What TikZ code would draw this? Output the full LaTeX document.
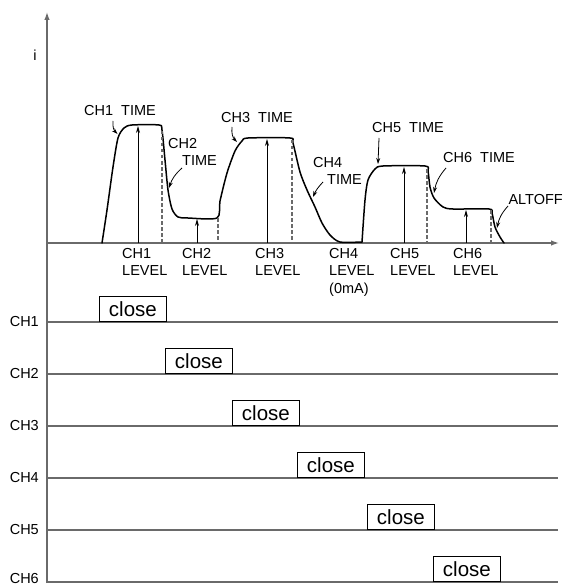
\documentclass[tikz,border=0pt]{standalone}
\usepackage{fontspec}
\setmainfont{Liberation Sans}
\usetikzlibrary{arrows.meta}
\definecolor{axgray}{HTML}{6A6A6A}
\begin{document}
\begin{tikzpicture}[x=1pt,y=-1pt,
  lbl/.style={font=\fontsize{14.5}{17.5}\selectfont, inner sep=0pt, align=left},
  axisline/.style={draw=axgray, line width=1.3pt},
  axistip/.style={-{Latex[length=8pt,width=5.5pt]}},
  dashline/.style={draw=axgray, line width=1.1pt, dash pattern=on 3.5pt off 2.5pt},
  levarrow/.style={draw=black, line width=0.8pt, -{Stealth[length=7pt,width=4pt]}},
  ptr/.style={draw=black, line width=0.8pt, -{Stealth[length=6pt,width=4pt]}},
  curve/.style={draw=black, line width=1.5pt, line join=round, line cap=round},
  chline/.style={draw=axgray, line width=1.3pt},
  closebox/.style={draw=black, line width=0.8pt, minimum width=67pt, minimum height=25pt, inner sep=0pt, font=\fontsize{20.5}{22}\selectfont, anchor=south west}
]
\useasboundingbox (0,0) rectangle (563,588);

% axes
\coordinate (ytop) at (47,12);
\coordinate (ybot) at (47,583);
\coordinate (org) at (47,243);
\coordinate (xend) at (559,243);
\draw[axisline, axistip] (ybot) -- (ytop);
\draw[axisline, axistip] (org) -- (xend);
\node[lbl] (ilabel) at (35,55) {i};

% waveform
\draw[curve] plot[smooth, tension=0.45] coordinates {
 (102,243) (107,210) (113,167) (118,138) (124,128) (132,125) (159,125)
 (162,130) (165,160) (168,190) (172,209) (178,217) (188,218) (217,218)
 (220,201) (227,173) (235,151) (242,141) (248,138) (290,138)
 (293,143) (300,172) (307,190) (315,207) (322,223) (330,235) (340,242) (362,242)};
\draw[curve] plot[smooth, tension=0.45] coordinates {
 (362,242) (365,200) (368,180) (375,169) (383,166) (425,166)
 (428,171) (430,187) (434,198) (443,207) (453,209) (489,209)
 (492,213) (495,227) (500,237) (504,243)};

% dashed lines
\foreach \n/\x/\y in {1/162/131, 2/218/218, 3/292/140, 4/427/169, 5/491/210}{
  \coordinate (dt\n) at (\x,\y);
  \coordinate (db\n) at (\x,243);
  \draw[dashline] (dt\n) -- (db\n);
}

% level arrows
\foreach \n/\x/\y in {1/138/126, 2/197/219, 3/267/139, 5/404/167, 6/466/210}{
  \coordinate (lb\n) at (\x,243);
  \coordinate (lt\n) at (\x,\y);
  \draw[levarrow] (lb\n) -- (lt\n);
}

% time labels
\node[lbl] (t1) at (120,111) {CH1\ \ TIME};
\node[lbl, anchor=north west] (t2) at (168,138) {CH2\\\hspace*{14pt}TIME};
\node[lbl] (t3) at (257,118) {CH3\ \ TIME};
\node[lbl, anchor=north west] (t4) at (313,157) {CH4\\\hspace*{14pt}TIME};
\node[lbl] (t5) at (408,128) {CH5\ \ TIME};
\node[lbl] (t6) at (479,158) {CH6\ \ TIME};
\node[lbl, anchor=east] (t7) at (563,200) {ALTOFF};

% pointer arrows
\coordinate (p1a) at (113,121); \coordinate (p1b) at (117.5,134);
\coordinate (p2a) at (182,168); \coordinate (p2b) at (169,188);
\coordinate (p3a) at (232,127); \coordinate (p3b) at (237,142);
\coordinate (p4a) at (323,182); \coordinate (p4b) at (313,197);
\coordinate (p5a) at (379,138); \coordinate (p5b) at (378,164);
\coordinate (p6a) at (446,168); \coordinate (p6b) at (434,193);
\coordinate (p7a) at (508,206); \coordinate (p7b) at (497,228);
\draw[ptr] (p1a) to[bend right=25] (p1b);
\draw[ptr] (p2a) to[bend right=15] (p2b);
\draw[ptr] (p3a) to[bend right=25] (p3b);
\draw[ptr] (p4a) to[bend right=10] (p4b);
\draw[ptr] (p5a) -- (p5b);
\draw[ptr] (p6a) to[bend right=15] (p6b);
\draw[ptr] (p7a) to[bend right=15] (p7b);

% level labels
\node[lbl, anchor=north west] (v1) at (122,248) {CH1\\LEVEL};
\node[lbl, anchor=north west] (v2) at (182,248) {CH2\\LEVEL};
\node[lbl, anchor=north west] (v3) at (255,248) {CH3\\LEVEL};
\node[lbl, anchor=north west] (v4) at (329,248) {CH4\\LEVEL\\(0mA)};
\node[lbl, anchor=north west] (v5) at (390,248) {CH5\\LEVEL};
\node[lbl, anchor=north west] (v6) at (453,248) {CH6\\LEVEL};

% channel rows
\foreach \n/\y/\bx/\ly in {1/322/99/322, 2/374/165/374, 3/426/232/426, 4/478/297/478, 5/530/367/530, 6/582/433/579}{
  \coordinate (ca\n) at (47,\y);
  \coordinate (cb\n) at (558,\y);
  \draw[chline] (ca\n) -- (cb\n);
  \node[lbl, anchor=east] (cl\n) at (39,\ly) {CH\n};
  \node[closebox] (box\n) at (\bx,\y) {close};
}
\end{tikzpicture}
\end{document}
